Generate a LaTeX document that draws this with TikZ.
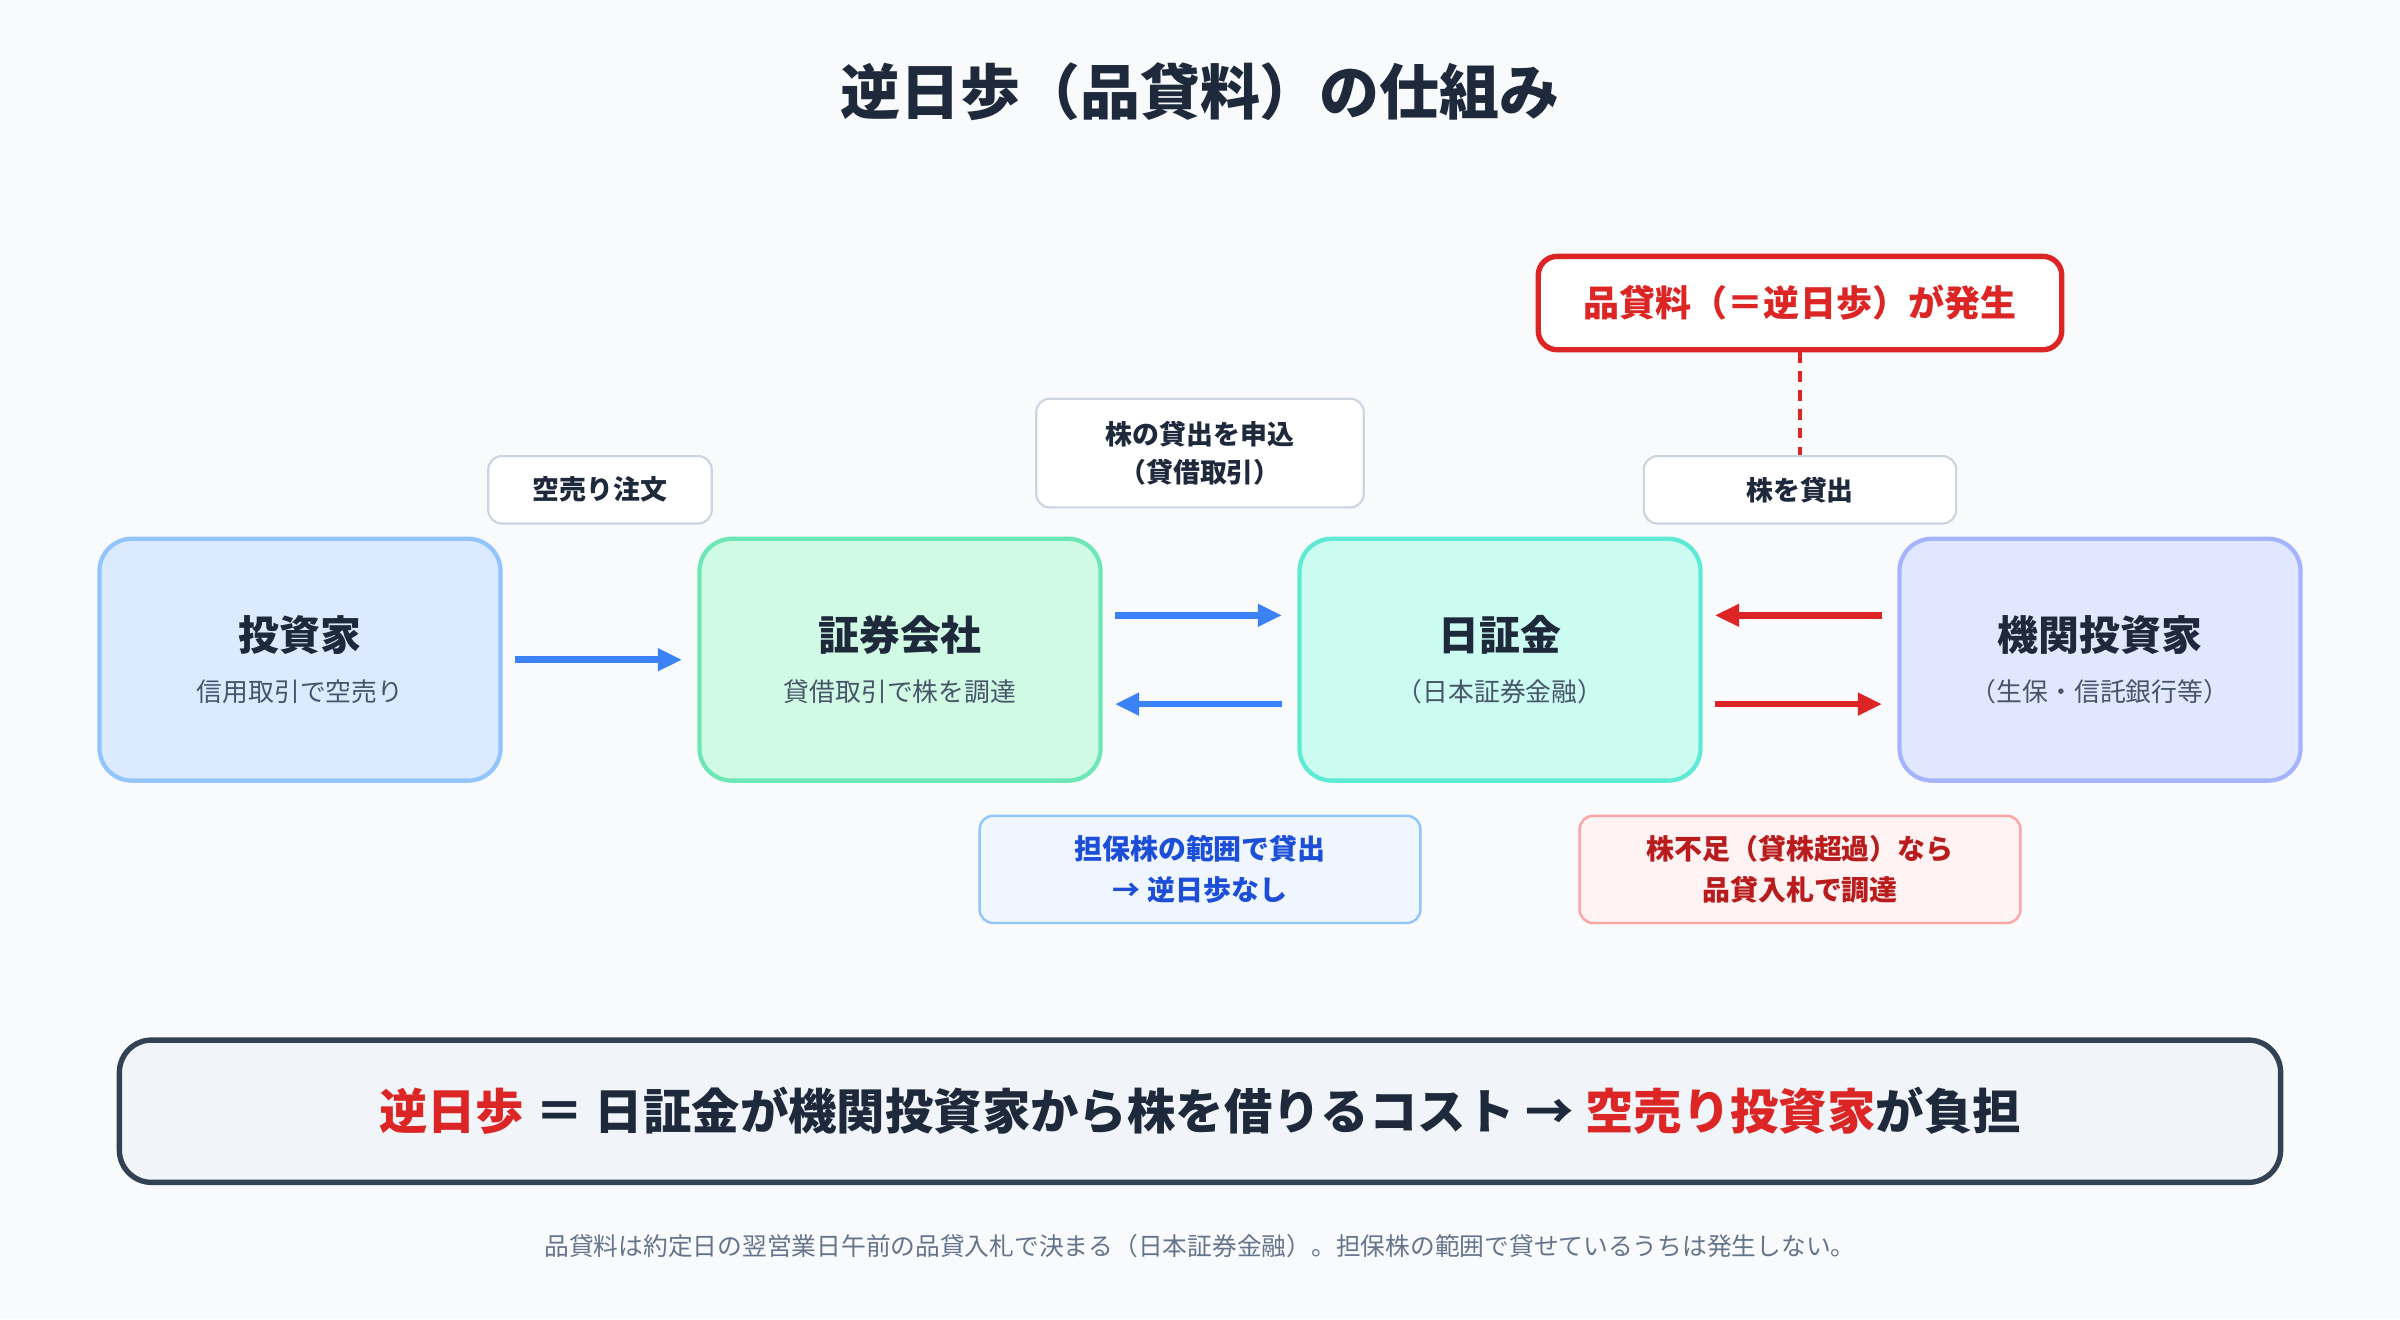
\documentclass[tikz,border=0pt]{standalone}
\usepackage{fontspec}
\setmainfont{Noto Sans CJK JP}
\usetikzlibrary{arrows.meta,calc}
\definecolor{bgc}{HTML}{F8FAFC}
\definecolor{ink}{HTML}{1E293B}
\definecolor{subink}{HTML}{475569}
\definecolor{bluearr}{HTML}{3B82F6}
\definecolor{redarr}{HTML}{DC2626}
\definecolor{lblline}{HTML}{CBD5E1}
\definecolor{invfill}{HTML}{DBEAFE}\definecolor{invline}{HTML}{93C5FD}
\definecolor{brkfill}{HTML}{D1FAE5}\definecolor{brkline}{HTML}{6EE7B7}
\definecolor{jsffill}{HTML}{CCFBF1}\definecolor{jsfline}{HTML}{5EEAD4}
\definecolor{insfill}{HTML}{E0E7FF}\definecolor{insline}{HTML}{A5B4FC}
\definecolor{bnfill}{HTML}{EFF6FF}\definecolor{bntext}{HTML}{1D4ED8}
\definecolor{rnfill}{HTML}{FEF2F2}\definecolor{rnline}{HTML}{FCA5A5}\definecolor{rntext}{HTML}{B91C1C}
\definecolor{sumline}{HTML}{334155}\definecolor{sumfill}{HTML}{F1F5F9}
\definecolor{foot}{HTML}{64748B}
\tikzset{
  actor/.style={rectangle, rounded corners=12pt, line width=1.6pt, minimum width=262*0.02cm, minimum height=158*0.02cm, align=center, text=ink},
  lbl/.style={rectangle, rounded corners=5pt, draw=lblline, fill=white, line width=0.8pt, align=center, font=\bfseries\fontsize{10}{14}\selectfont, text=ink},
  note/.style={rectangle, rounded corners=5pt, line width=0.9pt, minimum width=288*0.02cm, minimum height=70*0.02cm, align=center, font=\bfseries\fontsize{10.4}{15}\selectfont},
  flow/.style={-{Triangle[length=9pt,width=8pt]}, line width=2.4pt}
}
\newcommand{\actortext}[2]{{\bfseries\fontsize{15.2}{19}\selectfont #1}\\[7pt]{\fontsize{9.6}{12}\selectfont\color{subink}#2}}
\begin{document}
\begin{tikzpicture}[x=0.02cm,y=-0.02cm]
\fill[bgc] (0,0) rectangle (1568,862);

%%%%%%%%%%%%%%%%%%%%%%%%%%%%%%%%%%%%%%%%%%% title
\node[font=\bfseries\fontsize{22.3}{26}\selectfont, text=ink](title) at (784,60){逆日歩（品貸料）の仕組み};

%%%%%%%%%%%%%%%%%%%%%%%%%%%%%%%%%%%%%%%%%%% actors
\node[actor, fill=invfill, draw=invline](investor) at (196,431){\actortext{投資家}{信用取引で空売り}};
\node[actor, fill=brkfill, draw=brkline](broker) at (588,431){\actortext{証券会社}{貸借取引で株を調達}};
\node[actor, fill=jsffill, draw=jsfline](jsf) at (980,431){\actortext{日証金}{（日本証券金融）}};
\node[actor, fill=insfill, draw=insline](inst) at (1372,431){\actortext{機関投資家}{（生保・信託銀行等）}};

%%%%%%%%%%%%%%%%%%%%%%%%%%%%%%%%%%%%%%%%%%% arrows
\draw[flow, bluearr] ($(investor.east)+(8,0)$) -- ($(broker.west)+(-10,0)$);
\draw[flow, bluearr] ($(broker.east)+(8,-29)$) -- ($(jsf.west)+(-10,-29)$);
\draw[flow, bluearr] ($(jsf.west)+(-10,29)$) -- ($(broker.east)+(8,29)$);
\draw[flow, redarr] ($(inst.west)+(-10,-29)$) -- ($(jsf.east)+(8,-29)$);
\draw[flow, redarr] ($(jsf.east)+(8,29)$) -- ($(inst.west)+(-10,29)$);

%%%%%%%%%%%%%%%%%%%%%%%%%%%%%%%%%%%%%%%%%%% labels
\node[lbl, minimum width=146*0.02cm, minimum height=44*0.02cm](order) at (392,320){空売り注文};
\node[lbl, minimum width=214*0.02cm, minimum height=71*0.02cm](apply) at (784,296){株の貸出を申込\\（貸借取引）};
\node[lbl, minimum width=204*0.02cm, minimum height=44*0.02cm](lend) at (1176,320){株を貸出};
\node[rectangle, rounded corners=7pt, draw=redarr, fill=white, line width=2pt, minimum width=342*0.02cm, minimum height=61*0.02cm, text=redarr, font=\bfseries\fontsize{13.4}{16}\selectfont](fee) at (1176,198){品貸料（＝逆日歩）が発生};
\draw[redarr, line width=1.6pt, dash pattern=on 4pt off 3pt] (fee.south) -- (lend.north);

%%%%%%%%%%%%%%%%%%%%%%%%%%%%%%%%%%%%%%%%%%% notes
\node[note, fill=bnfill, draw=invline, text=bntext](nofee) at (784,568){担保株の範囲で貸出\\→ 逆日歩なし};
\node[note, fill=rnfill, draw=rnline, text=rntext](short) at (1176,568){株不足（貸株超過）なら\\品貸入札で調達};

%%%%%%%%%%%%%%%%%%%%%%%%%%%%%%%%%%%%%%%%%%% summary
\node[rectangle, rounded corners=12pt, draw=sumline, fill=sumfill, line width=2pt, minimum width=1412*0.02cm, minimum height=93*0.02cm, text=ink, font=\bfseries\fontsize{18}{21}\selectfont](summary) at (784,726){\textcolor{redarr}{逆日歩} ＝ 日証金が機関投資家から株を借りるコスト → \textcolor{redarr}{空売り投資家}が負担};
\node[text=foot, font=\fontsize{9.2}{11}\selectfont](footer) at (784,814){品貸料は約定日の翌営業日午前の品貸入札で決まる（日本証券金融）。担保株の範囲で貸せているうちは発生しない。};
\end{tikzpicture}
\end{document}
